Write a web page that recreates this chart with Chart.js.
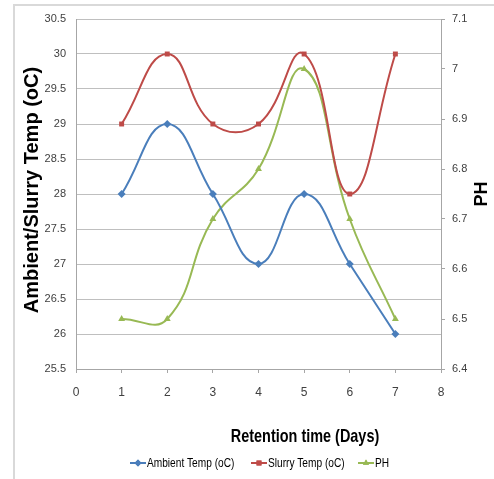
<!DOCTYPE html>
<html>
<head>
<meta charset="utf-8">
<script src="https://cdn.jsdelivr.net/npm/chart.js@4"></script>
<style>
  html, body { margin: 0; padding: 0; background: #fff; overflow: hidden; }
  #wrap { position: relative; width: 494px; height: 479px; overflow: hidden; }
  #frame { position: absolute; left: 13px; top: 4px; width: 600px; height: 600px; border: 2px solid #d9d9d9; }
  canvas { position: absolute; left: 0; top: 0; }
</style>
</head>
<body>
<div id="wrap">
  <div id="frame"></div>
  <canvas id="grafico" width="494" height="479"></canvas>
</div>
<script>
const dias = [1, 2, 3, 4, 5, 6, 7];
const ambientTemp = [28, 29, 28, 27, 28, 27, 26];
const slurryTemp = [29, 30, 29, 29, 30, 28, 30];
const ph = [6.5, 6.5, 6.7, 6.8, 7.0, 6.7, 6.5];

const nomes = ["Ambient Temp (oC)", "Slurry Temp (oC)", "PH"];
const cores = ["#4a7ebb", "#be4b48", "#98b954"];
const marcadores = ["rectRot", "rect", "triangle"];

const fonte = "'Liberation Sans', Arial, sans-serif";

function pontos(valores) {
  return dias.map((d, i) => ({ x: d, y: valores[i] }));
}

function serie(i, valores, eixo) {
  return {
    label: nomes[i],
    data: pontos(valores),
    yAxisID: eixo,
    borderColor: cores[i],
    backgroundColor: cores[i],
    borderWidth: 2,
    tension: 0.45,
    pointStyle: marcadores[i],
    pointRadius: i === 1 ? 3.5 : 4,
    pointBorderWidth: 0,
  };
}

// texto "estreito": comprime na horizontal (a fonte original era condensada)
function textoEstreito(ctx, texto, x, y, fonte, escala, alinhamento) {
  ctx.save();
  ctx.font = fonte;
  const w = ctx.measureText(texto).width * escala;
  let x0 = x;
  if (alinhamento === "center") x0 = x - w / 2;
  ctx.translate(x0, y);
  ctx.scale(escala, 1);
  ctx.textAlign = "left";
  ctx.fillText(texto, 0, 0);
  ctx.restore();
}

// titulos dos eixos e legenda desenhados na mao
const extras = {
  id: "extras",
  afterDraw(chart) {
    const ctx = chart.ctx;
    ctx.save();
    ctx.fillStyle = "#000";
    ctx.textAlign = "center";
    ctx.textBaseline = "middle";

    // titulo eixo esquerdo
    ctx.save();
    ctx.translate(32, 190);
    ctx.rotate(-Math.PI / 2);
    ctx.font = "bold 20px " + fonte;
    ctx.fillText("Ambient/Slurry Temp (oC)", 0, 0);
    ctx.restore();

    // titulo eixo direito
    ctx.save();
    ctx.translate(482, 194);
    ctx.rotate(-Math.PI / 2);
    ctx.font = "bold 18px " + fonte;
    ctx.fillText("PH", 0, 0);
    ctx.restore();

    // titulo eixo x
    textoEstreito(ctx, "Retention time (Days)", 305, 437, "bold 19px " + fonte, 0.76, "center");

    // legenda
    const posX = [130, 251, 358];
    const yLeg = 463;
    for (let i = 0; i < nomes.length; i++) {
      const x0 = posX[i];
      ctx.strokeStyle = cores[i];
      ctx.lineWidth = 2;
      ctx.beginPath();
      ctx.moveTo(x0, yLeg);
      ctx.lineTo(x0 + 16, yLeg);
      ctx.stroke();
      ctx.fillStyle = cores[i];
      Chart.helpers.drawPoint(ctx, { pointStyle: marcadores[i], radius: 3.5, rotation: 0, borderWidth: 0 }, x0 + 8, yLeg);
      ctx.fill();
      ctx.fillStyle = "#000";
      textoEstreito(ctx, nomes[i], x0 + 17, yLeg, "13px " + fonte, 0.78, "left");
    }
    ctx.restore();
  },
};

const fmt = (v) => String(Math.round(v * 10) / 10);

new Chart(document.getElementById("grafico"), {
  type: "line",
  data: {
    datasets: [
      serie(0, ambientTemp, "y"),
      serie(1, slurryTemp, "y"),
      serie(2, ph, "y1"),
    ],
  },
  options: {
    responsive: false,
    animation: false,
    layout: { padding: { top: 19, left: 0, right: 0, bottom: 0 } },
    plugins: {
      legend: { display: false },
      title: { display: false },
      tooltip: { enabled: false },
    },
    scales: {
      x: {
        type: "linear",
        min: 0,
        max: 8,
        ticks: { stepSize: 1, color: "#404040", padding: 12, font: { size: 12, family: fonte } },
        grid: { drawOnChartArea: false, color: "#a6a6a6", tickLength: 4 },
        border: { color: "#a6a6a6" },
        afterFit: (s) => { s.height = 110; },
      },
      y: {
        position: "left",
        min: 25.5,
        max: 30.5,
        ticks: { stepSize: 0.5, color: "#404040", padding: 10, callback: fmt, font: { size: 11, family: fonte } },
        grid: { color: "#bfbfbf", tickLength: 0 },
        border: { color: "#a6a6a6" },
        afterFit: (s) => { s.width = 76; },
      },
      y1: {
        position: "right",
        min: 6.4,
        max: 7.1,
        ticks: { stepSize: 0.1, color: "#404040", padding: 7, callback: fmt, font: { size: 11, family: fonte } },
        grid: { drawOnChartArea: false, color: "#a6a6a6", tickLength: 4 },
        border: { color: "#a6a6a6" },
        afterFit: (s) => { s.width = 53; },
      },
    },
  },
  plugins: [extras],
});
</script>
</body>
</html>
